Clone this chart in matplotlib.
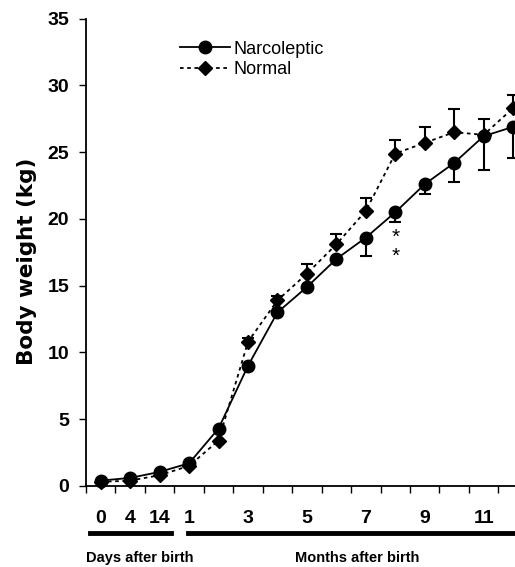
import numpy as np
import matplotlib
matplotlib.use("Agg")
import matplotlib.pyplot as plt
import matplotlib.transforms as mtransforms

plt.rcParams['font.family'] = ['Liberation Sans', 'DejaVu Sans']

# time points: 0, 4, 14 days after birth, then months 1..12
tick_labels = ['0', '4', '14', '1', '', '3', '', '5', '', '7', '', '9', '', '11', '']
narco = [0.4, 0.6, 1.05, 1.7, 4.3, 9.0, 13.0, 14.9, 17.0, 18.6, 20.5, 22.6, 24.2, 26.2, 26.9]
normal = [0.3, 0.4, 0.8, 1.5, 3.4, 10.8, 13.9, 15.9, 18.1, 20.6, 24.9, 25.7, 26.5, 26.3, 28.3]
narco_err = [0, 0, 0, 0, 0, 0, 0, 0, 0, 1.4, 0.7, 0.7, 1.4, 2.5, 2.3]
normal_err = [0, 0, 0, 0, 0, 0.3, 0.3, 0.7, 0.8, 1.0, 1.0, 1.2, 1.7, 1.2, 1.0]

x = np.arange(len(narco))
zeros = np.zeros(len(narco))

fig = plt.figure(figsize=(5.15, 5.67), dpi=100)
ax = fig.add_axes([0.167, 0.143, 0.835, 0.824])

ax.errorbar(x, normal, yerr=[zeros, normal_err], fmt='none', ecolor='black',
            elinewidth=1.5, capsize=4, capthick=1.5, zorder=2)
ax.errorbar(x, narco, yerr=[narco_err, zeros], fmt='none', ecolor='black',
            elinewidth=1.5, capsize=4, capthick=1.5, zorder=2)
ax.plot(x, normal, linestyle=(0, (2, 2)), color='black', lw=1.3, marker='D',
        markersize=7, label='Normal', zorder=3, clip_on=False)
ax.plot(x, narco, linestyle='-', color='black', lw=1.3, marker='o',
        markersize=9, label='Narcoleptic', zorder=4, clip_on=False)

# significance stars at month 8
ax.text(10, 18.6, '*', ha='center', va='center', fontsize=15)
ax.text(10, 17.2, '*', ha='center', va='center', fontsize=15)

ax.set_xlim(-0.5, 14.1)
ax.set_ylim(0, 35)
ax.set_yticks(np.arange(0, 36, 5))
ax.set_xticks(x)
ax.set_xticklabels(tick_labels)
ax.set_xticks(np.arange(-0.5, 14.1, 1), minor=True)
ax.tick_params(axis='x', which='major', length=0, pad=17, labelsize=14)
ax.tick_params(axis='x', which='minor', length=5, width=1, direction='out')
ax.tick_params(axis='y', length=5, width=1, direction='out', pad=7, labelsize=14)
for lab in ax.get_xticklabels() + ax.get_yticklabels():
    lab.set_fontweight('bold')

for s in ['top', 'right']:
    ax.spines[s].set_visible(False)
ax.spines['left'].set_linewidth(1.3)
ax.spines['bottom'].set_linewidth(1.3)

ax.set_ylabel('Body weight (kg)', fontsize=15.5, fontweight='bold', family='DejaVu Sans')
ax.yaxis.set_label_coords(-0.115, 0.48)

# bars under the x axis marking days / months
trans = mtransforms.blended_transform_factory(ax.transData, ax.transAxes)
ax.plot([-0.37, 2.4], [-0.1, -0.1], color='black', lw=3.5, transform=trans, clip_on=False)
ax.plot([2.97, 14.3], [-0.1, -0.1], color='black', lw=3.5, transform=trans, clip_on=False)
ax.text(-0.5, -0.155, 'Days after birth', transform=trans, ha='left', va='center',
        fontsize=10.5, fontweight='bold')
ax.text(8.72, -0.155, 'Months after birth', transform=trans, ha='center', va='center',
        fontsize=10.5, fontweight='bold')

handles, labels = ax.get_legend_handles_labels()
ax.legend(handles[::-1], labels[::-1], loc='upper left', bbox_to_anchor=(0.18, 0.988),
          frameon=False, fontsize=13, handlelength=2.8, handletextpad=0.2,
          labelspacing=0.2)

fig.savefig('out.png', dpi=100)
